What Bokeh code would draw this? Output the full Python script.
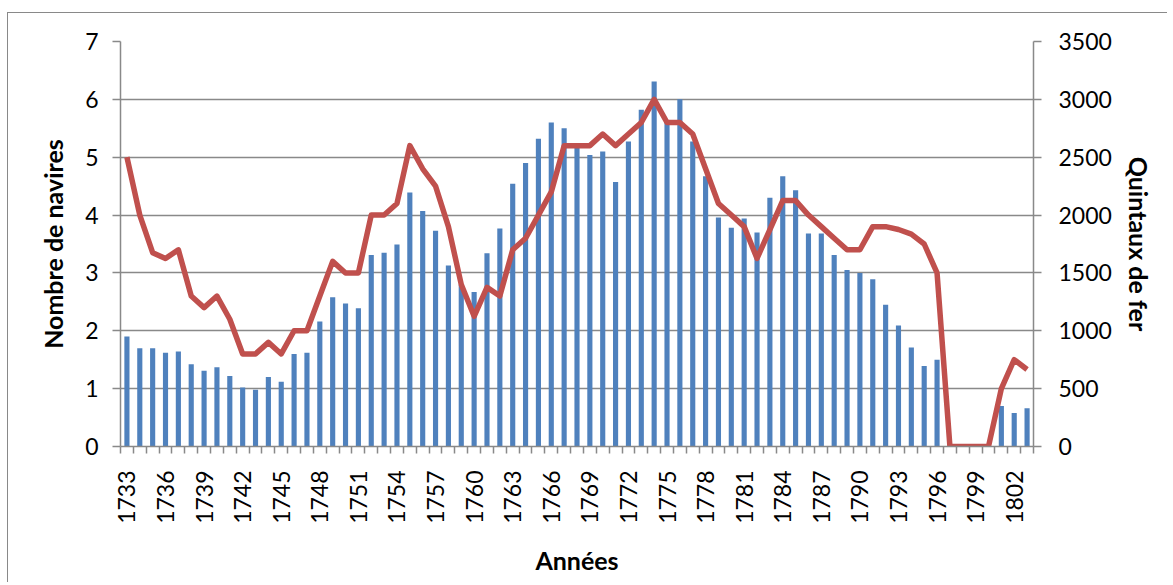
import math
from bokeh.plotting import figure
from bokeh.models import Range1d, LinearAxis, FixedTicker, ColumnDataSource
from bokeh.embed import file_html
from bokeh.resources import INLINE

years = list(range(1733, 1804))

# Quintaux de fer (bars, right axis)
quintaux = [950, 850, 850, 810, 820, 710, 655, 685, 610, 510,
            490, 600, 560, 800, 810, 1080, 1290, 1235, 1195, 1655,
            1675, 1745, 2195, 2035, 1865, 1565, 1400, 1335, 1670, 1885,
            2270, 2450, 2660, 2800, 2750, 2590, 2520, 2550, 2285, 2635,
            2910, 3155, 2800, 3000, 2635, 2335, 1980, 1890, 1970, 1850,
            2150, 2335, 2215, 1840, 1840, 1655, 1525, 1500, 1445, 1225,
            1045, 855, 695, 750, 0, 0, 0, 0, 350, 290,
            330]

# Nombre de navires (line, left axis)
navires = [5.0, 4.0, 3.35, 3.25, 3.4, 2.6, 2.4, 2.6, 2.2, 1.6,
           1.6, 1.8, 1.6, 2.0, 2.0, 2.6, 3.2, 3.0, 3.0, 4.0,
           4.0, 4.2, 5.2, 4.8, 4.5, 3.8, 2.8, 2.25, 2.75, 2.6,
           3.4, 3.6, 4.0, 4.4, 5.2, 5.2, 5.2, 5.4, 5.2, 5.4,
           5.6, 6.0, 5.6, 5.6, 5.4, 4.8, 4.2, 4.0, 3.8, 3.25,
           3.75, 4.25, 4.25, 4.0, 3.8, 3.6, 3.4, 3.4, 3.8, 3.8,
           3.75, 3.67, 3.5, 3.0, 0, 0, 0, 0, 1.0, 1.5,
           1.33]

label_years = [1733, 1736, 1739, 1742, 1745, 1748, 1751, 1754, 1757, 1760,
               1763, 1766, 1769, 1772, 1775, 1778, 1781, 1784, 1787, 1790,
               1793, 1796, 1799, 1802]
left_ticks = [0, 1, 2, 3, 4, 5, 6, 7]
right_ticks = [0, 500, 1000, 1500, 2000, 2500, 3000, 3500]

FONT = "Lato"
GRAY = "#898989"

src = ColumnDataSource(dict(year=years, q=quintaux, n=navires))

p = figure(width=1160, height=570, output_backend="svg", toolbar_location=None,
           x_range=Range1d(years[0] - 0.5, years[-1] + 0.5),
           y_range=Range1d(0, 7),
           min_border_left=112, min_border_top=28, min_border_right=135,
           min_border_bottom=137)
p.styles = {"margin-top": "12px", "margin-left": "7px",
            "border-left": "1px solid #898989",
            "border-top": "1px solid #898989"}
p.extra_y_ranges = {"q": Range1d(0, 3500)}
p.outline_line_color = None
p.background_fill_color = "white"

p.vbar(x="year", top="q", width=0.4, source=src, y_range_name="q",
       fill_color="#4F81BD", line_color=None)
p.line(x="year", y="n", source=src, line_width=5.5, line_color="#C0504D",
       line_join="round")

# grid
p.xgrid.grid_line_color = None
p.ygrid.ticker = FixedTicker(ticks=left_ticks)
p.ygrid.grid_line_color = GRAY
p.ygrid.grid_line_width = 1.5

def style_axis(ax):
    ax.axis_line_color = GRAY
    ax.axis_line_width = 1.5
    ax.major_tick_line_color = GRAY
    ax.major_tick_line_width = 1.5
    ax.minor_tick_line_color = GRAY
    ax.minor_tick_line_width = 1.5
    ax.major_label_text_font = FONT
    ax.major_label_text_font_size = "23px"
    ax.major_label_text_color = "black"
    ax.axis_label_text_font = FONT
    ax.axis_label_text_font_size = "25px"
    ax.axis_label_text_font_style = "bold"
    ax.axis_label_text_color = "black"

# left axis
yl = p.yaxis[0]
yl.ticker = FixedTicker(ticks=left_ticks)
yl.axis_label = "Nombre de navires"
yl.major_tick_out = 8
yl.major_tick_in = 0
yl.minor_tick_out = 0
yl.minor_tick_in = 0
yl.major_label_standoff = 14
yl.axis_label_standoff = 14
style_axis(yl)

# right axis
yr = LinearAxis(y_range_name="q", ticker=FixedTicker(ticks=right_ticks),
                axis_label="Quintaux de fer")
yr.major_tick_out = 8
yr.major_tick_in = 0
yr.minor_tick_out = 0
yr.minor_tick_in = 0
yr.major_label_standoff = 17
yr.axis_label_standoff = 9
style_axis(yr)
p.add_layout(yr, "right")

# bottom axis
xa = p.xaxis[0]
xa.ticker = FixedTicker(ticks=label_years,
                        minor_ticks=[y - 0.5 for y in years] + [years[-1] + 0.5])
xa.major_tick_out = 0
xa.major_tick_in = 0
xa.minor_tick_out = 7
xa.minor_tick_in = 0
xa.major_label_orientation = math.pi / 2
xa.major_label_standoff = 17
xa.axis_label = "Années"
xa.axis_label_standoff = 18
style_axis(xa)

open("out.html", "w").write(file_html(p, INLINE))
